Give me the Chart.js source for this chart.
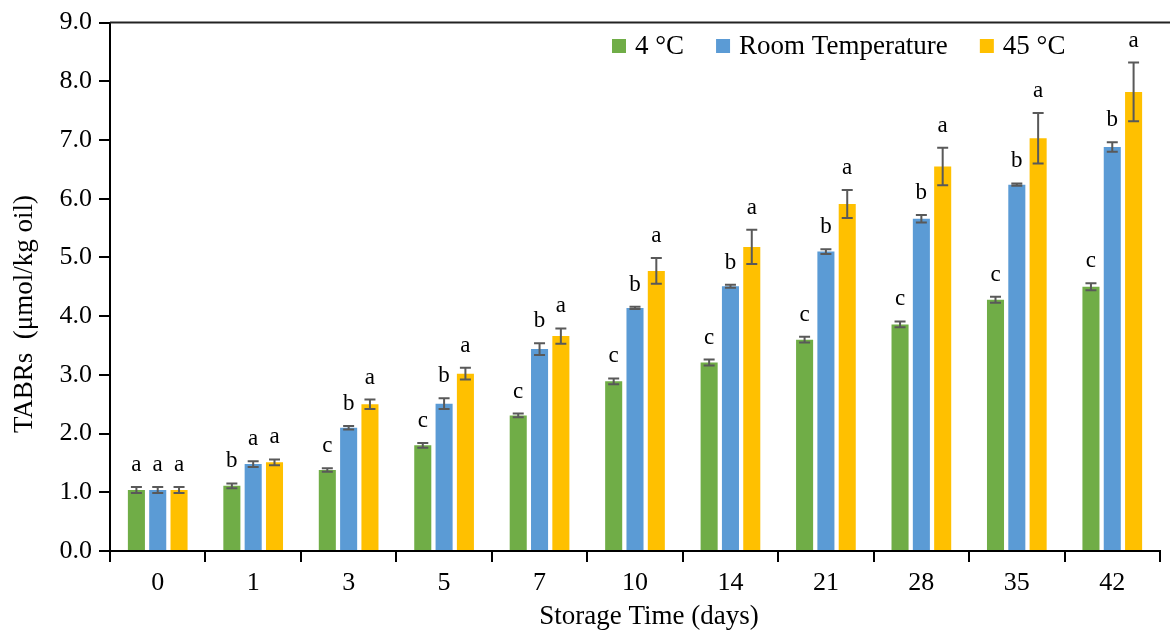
<!DOCTYPE html>
<html lang="en">
<head>
  <meta charset="UTF-8" />
  <title>TABRs vs Storage Time</title>
  <script src="https://cdn.jsdelivr.net/npm/chart.js"></script>
  <style>
    body { margin: 0; background: #fff; }
    .wrap { width: 1170px; height: 631px; }
  </style>
</head>
<body>
  <div class="wrap"><canvas id="tabrs"></canvas></div>

<script>
// storage days (x categories)
const days = ['0', '1', '3', '5', '7', '10', '14', '21', '28', '35', '42'];
const seriesNames = ['4 °C', 'Room Temperature', '45 °C'];

// mean TABRs values (µmol/kg oil)
const cold = [1.04, 1.11, 1.38, 1.80, 2.31, 2.89, 3.21, 3.60, 3.86, 4.28, 4.50];
const room = [1.04, 1.48, 2.10, 2.51, 3.44, 4.14, 4.51, 5.10, 5.66, 6.24, 6.88];
const hot  = [1.04, 1.51, 2.50, 3.02, 3.66, 4.77, 5.18, 5.91, 6.55, 7.03, 7.82];

// standard deviations
const coldErr = [0.05, 0.04, 0.03, 0.04, 0.03, 0.05, 0.05, 0.05, 0.05, 0.05, 0.06];
const roomErr = [0.05, 0.05, 0.03, 0.09, 0.10, 0.02, 0.025, 0.04, 0.065, 0.02, 0.08];
const hotErr  = [0.05, 0.05, 0.08, 0.10, 0.13, 0.22, 0.29, 0.24, 0.32, 0.43, 0.50];

// significance letters
const coldLetters = ['a', 'b', 'c', 'c', 'c', 'c', 'c', 'c', 'c', 'c', 'c'];
const roomLetters = ['a', 'a', 'b', 'b', 'b', 'b', 'b', 'b', 'b', 'b', 'b'];
const hotLetters  = ['a', 'a', 'a', 'a', 'a', 'a', 'a', 'a', 'a', 'a', 'a'];

const yTicks = [0, 1, 2, 3, 4, 5, 6, 7, 8, 9];

const colors = ['#70AD47', '#5B9BD5', '#FFC000'];
const errs = [coldErr, roomErr, hotErr];
const letters = [coldLetters, roomLetters, hotLetters];
const serif = "'Liberation Serif', 'Times New Roman', serif";

// error bars, letters, legend, titles and the top frame line
const overlay = {
  id: 'overlay',
  afterDatasetsDraw(chart) {
    const ctx = chart.ctx;
    const y = chart.scales.y;
    ctx.save();
    chart.data.datasets.forEach((ds, i) => {
      const meta = chart.getDatasetMeta(i);
      meta.data.forEach((bar, j) => {
        const v = ds.data[j];
        const e = errs[i][j];
        const top = y.getPixelForValue(v + e);
        const bot = y.getPixelForValue(v - e);
        ctx.strokeStyle = '#595959';
        ctx.lineWidth = 2;
        ctx.beginPath();
        ctx.moveTo(bar.x, top); ctx.lineTo(bar.x, bot);
        ctx.moveTo(bar.x - 5.5, top); ctx.lineTo(bar.x + 5.5, top);
        ctx.moveTo(bar.x - 5.5, bot); ctx.lineTo(bar.x + 5.5, bot);
        ctx.stroke();

        ctx.fillStyle = '#000';
        ctx.font = '23px ' + serif;
        ctx.textAlign = 'center';
        ctx.textBaseline = 'alphabetic';
        ctx.fillText(letters[i][j], bar.x, top - 16);
      });
    });
    ctx.restore();
  },
  afterDraw(chart) {
    const ctx = chart.ctx;
    const area = chart.chartArea;
    ctx.save();

    // top frame line
    ctx.strokeStyle = '#222';
    ctx.lineWidth = 2;
    ctx.beginPath();
    ctx.moveTo(area.left, area.top);
    ctx.lineTo(chart.width, area.top);
    ctx.stroke();

    // legend inside plot
    ctx.font = '27px ' + serif;
    ctx.textBaseline = 'middle';
    ctx.textAlign = 'left';
    let x = 612;
    seriesNames.forEach((name, i) => {
      ctx.fillStyle = colors[i];
      ctx.fillRect(x, 39, 14, 14);
      ctx.fillStyle = '#000';
      ctx.fillText(name, x + 14 + 9, 47);
      x += 14 + 9 + ctx.measureText(name).width + 32;
    });

    // axis titles
    ctx.font = '27px ' + serif;
    ctx.textAlign = 'center';
    ctx.textBaseline = 'middle';
    ctx.fillText('Storage Time (days)', 649, 617);
    ctx.translate(25, 314);
    ctx.rotate(-Math.PI / 2);
    ctx.fillText('TABRs  (μmol/kg oil)', 0, 0);
    ctx.restore();
  }
};

new Chart(document.getElementById('tabrs'), {
  type: 'bar',
  data: {
    labels: days,
    datasets: [
      { label: seriesNames[0], data: cold, backgroundColor: colors[0] },
      { label: seriesNames[1], data: room, backgroundColor: colors[1] },
      { label: seriesNames[2], data: hot, backgroundColor: colors[2] }
    ]
  },
  options: {
    responsive: true,
    maintainAspectRatio: false,
    animation: false,
    categoryPercentage: 0.67,
    barPercentage: 0.8,
    layout: { padding: { top: 22, right: 10, left: 0, bottom: 0 } },
    plugins: {
      legend: { display: false },
      tooltip: { enabled: false }
    },
    scales: {
      x: {
        afterFit: s => { s.height = 80; },
        grid: { drawOnChartArea: false, offset: true, tickLength: 11, color: '#000', lineWidth: 2 },
        border: { color: '#000', width: 2 },
        ticks: { color: '#000', font: { family: serif, size: 26 }, padding: 6 }
      },
      y: {
        min: 0,
        max: 9,
        afterFit: s => { s.width = 110; },
        afterBuildTicks: s => { s.ticks = yTicks.map(v => ({ value: v })); },
        grid: { drawOnChartArea: false, tickLength: 11, color: '#000', lineWidth: 2 },
        border: { color: '#000', width: 2 },
        ticks: {
          color: '#000',
          font: { family: serif, size: 26 },
          padding: 7,
          callback: v => v.toFixed(1)
        }
      }
    }
  },
  plugins: [overlay]
});
</script>
</body>
</html>
